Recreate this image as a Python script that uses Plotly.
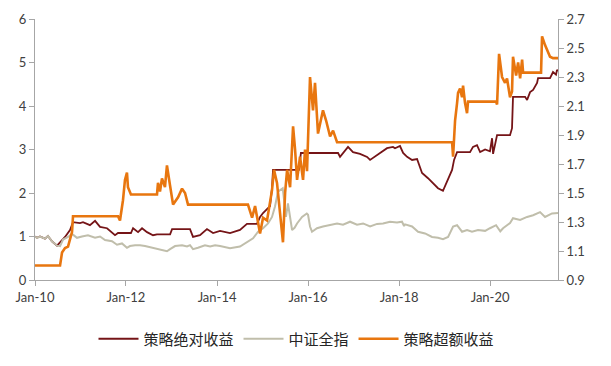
import plotly.graph_objects as go

# 中证全指 (left axis)
idx_dates = ["2010-01-01","2010-01-17","2010-02-10","2010-03-22","2010-04-15","2010-05-17","2010-06-27","2010-07-21",
 "2010-08-14","2010-09-23","2010-10-25","2010-12-04","2011-01-13","2011-03-02","2011-04-28","2011-06-07","2011-07-17",
 "2011-09-11","2011-10-21","2011-11-30","2012-01-09","2012-02-02","2012-03-14","2012-04-23","2012-06-02","2012-08-05",
 "2012-09-30","2012-11-25","2012-12-20","2013-01-29","2013-03-26","2013-05-05","2013-05-29","2013-06-22","2013-08-01",
 "2013-09-26","2013-11-06","2013-12-16","2014-01-25","2014-04-15","2014-07-04","2014-08-29","2014-10-17","2014-11-26",
 "2015-01-05","2015-02-14","2015-03-18","2015-04-11","2015-05-05","2015-06-12","2015-07-08","2015-07-24","2015-08-26",
 "2015-09-15","2015-10-05","2015-11-14","2015-12-22","2016-01-01","2016-01-17","2016-02-02","2016-03-13","2016-04-30",
 "2016-06-26","2016-08-21","2016-10-08","2016-12-03","2017-01-28","2017-03-18","2017-05-13","2017-07-08","2017-08-25",
 "2017-10-20","2017-12-15","2018-01-24","2018-02-10","2018-02-18","2018-04-15","2018-06-02","2018-07-28","2018-09-22",
 "2018-11-09","2018-12-19","2019-01-29","2019-03-10","2019-04-11","2019-05-21","2019-06-30","2019-08-09","2019-09-26",
 "2019-11-22","2019-12-31","2020-02-18","2020-03-23","2020-04-14","2020-06-09","2020-07-03","2020-08-29","2020-10-24",
 "2020-12-11","2021-02-05","2021-03-17","2021-05-12","2021-06-29"]
idx_vals = [1.00,0.97,1.00,0.95,1.01,0.89,0.79,0.78,
 0.93,0.99,1.06,0.97,1.00,1.03,0.97,1.00,0.92,
 0.89,0.81,0.84,0.74,0.78,0.80,0.80,0.78,0.74,
 0.71,0.66,0.71,0.78,0.80,0.77,0.80,0.71,0.74,
 0.80,0.77,0.80,0.78,0.73,0.77,0.87,0.96,1.11,
 1.19,1.30,1.45,1.69,2.03,2.11,1.45,1.76,1.15,
 1.20,1.30,1.45,1.53,1.50,1.23,1.11,1.19,1.23,
 1.27,1.30,1.27,1.34,1.27,1.30,1.23,1.29,1.30,
 1.34,1.32,1.34,1.24,1.28,1.23,1.11,1.07,0.99,
 0.97,0.94,0.99,1.23,1.26,1.11,1.15,1.11,1.15,
 1.13,1.19,1.26,1.12,1.19,1.31,1.42,1.38,1.45,
 1.49,1.56,1.45,1.53,1.54]

# 策略绝对收益 (left axis)
abs_dates = ["2010-01-01","2010-01-17","2010-02-10","2010-03-22","2010-04-15","2010-05-17","2010-06-27","2010-07-21",
 "2010-08-30","2010-10-09","2010-11-02","2010-12-28","2011-01-21","2011-03-18","2011-04-28","2011-06-07","2011-08-02",
 "2011-10-05","2011-10-29","2012-02-10","2012-02-27","2012-04-07","2012-05-09","2012-06-18","2012-08-05","2012-09-06",
 "2012-12-20","2013-01-05","2013-05-29","2013-06-22","2013-08-17","2013-10-12","2013-11-30","2014-01-25","2014-04-15",
 "2014-07-04","2014-08-29","2014-11-18","2014-12-12","2015-01-05","2015-02-06","2015-03-02","2015-03-18","2015-03-26",
 "2015-10-20","2015-11-05","2016-08-29","2016-09-14","2016-11-17","2016-12-27","2017-02-21","2017-04-19","2017-05-13",
 "2017-07-08","2017-09-26","2017-11-13","2017-11-29","2018-01-08","2018-02-02","2018-03-06","2018-04-15","2018-05-25",
 "2018-07-04","2018-08-21","2018-10-16","2018-11-09","2018-12-19","2019-01-29","2019-03-02","2019-03-18","2019-04-11",
 "2019-07-24","2019-08-17","2019-09-18","2019-10-13","2019-11-22","2019-12-31","2020-01-17","2020-01-25","2020-02-26",
 "2020-06-09","2020-06-25","2020-07-03","2020-10-08","2020-10-24","2020-11-17","2020-12-11","2021-01-12","2021-01-20",
 "2021-04-26","2021-05-20","2021-06-13","2021-06-21","2021-06-29"]
abs_vals = [1.00,0.97,1.00,0.95,1.01,0.89,0.79,0.87,
 0.99,1.15,1.33,1.31,1.33,1.26,1.36,1.22,1.19,
 1.03,1.08,1.08,1.19,1.10,1.19,1.10,1.03,1.05,
 1.05,1.17,1.17,0.99,1.03,1.17,1.08,1.13,1.08,
 1.15,1.29,1.29,1.45,1.54,1.62,1.70,2.11,2.53,
 2.53,2.92,2.92,2.83,3.06,2.94,2.90,2.83,2.76,
 2.87,3.03,3.06,3.03,3.08,2.92,2.83,2.76,2.78,
 2.46,2.34,2.18,2.11,2.05,2.30,2.53,2.76,2.94,
 2.94,3.06,3.10,2.94,3.00,2.96,3.26,2.90,3.33,
 3.33,3.49,4.21,4.21,4.14,4.32,4.37,4.53,4.64,
 4.64,4.78,4.72,4.83,4.80]

# 策略超额收益 (right axis)
exc_dates = ["2010-01-01","2010-07-21","2010-08-06","2010-08-30","2010-09-23","2010-10-09","2010-10-25","2010-11-02",
 "2011-10-29","2011-11-14","2011-12-08","2011-12-24","2012-01-09","2012-01-17","2012-02-10","2012-09-06","2012-09-14",
 "2012-09-30","2012-10-16","2012-11-09","2012-11-25","2012-12-20","2013-01-13","2013-02-22","2013-03-26","2013-04-19",
 "2013-05-13","2014-09-06","2014-09-23","2014-10-09","2014-11-02","2014-11-26","2014-12-12","2015-01-05","2015-02-06",
 "2015-03-18","2015-04-03","2015-04-27","2015-05-21","2015-06-14","2015-07-01","2015-07-17","2015-08-10","2015-09-03",
 "2015-09-19","2015-10-05","2015-10-29","2015-11-22","2015-12-08","2015-12-24","2016-01-17","2016-02-10","2016-02-26",
 "2016-03-21","2016-04-30","2016-05-25","2016-06-26","2016-07-20","2016-08-21","2019-03-02","2019-03-10","2019-03-18",
 "2019-03-26","2019-04-11","2019-04-19","2019-05-05","2019-05-21","2019-05-29","2019-06-14","2019-06-30","2019-07-08",
 "2020-02-18","2020-02-26","2020-03-13","2020-04-06","2020-04-30","2020-05-16","2020-06-09","2020-06-25","2020-07-03",
 "2020-07-28","2020-08-13","2020-08-29","2020-09-14","2020-09-22","2021-02-13","2021-02-21","2021-03-17","2021-04-02",
 "2021-04-26","2021-05-20","2021-06-29"]
exc_vals = [1.00,1.00,1.09,1.12,1.13,1.18,1.23,1.34,
 1.34,1.31,1.45,1.59,1.64,1.54,1.49,1.49,1.57,
 1.51,1.60,1.54,1.69,1.55,1.42,1.47,1.53,1.50,
 1.42,1.42,1.38,1.33,1.41,1.29,1.22,1.33,1.31,
 1.52,1.66,1.57,1.36,1.16,1.50,1.66,1.54,1.96,
 1.80,1.59,1.75,1.59,1.80,1.65,2.30,2.07,2.26,
 1.91,2.07,2.00,1.89,1.93,1.85,1.85,1.75,1.85,
 2.00,2.12,2.19,2.22,2.16,2.24,2.12,2.05,2.13,
 2.13,2.11,2.46,2.30,2.26,2.29,2.16,2.20,2.44,
 2.31,2.40,2.29,2.42,2.33,2.33,2.58,2.52,2.49,
 2.44,2.43,2.43]

tick_dates = ["2010-01-01","2012-01-01","2014-01-01","2016-01-01","2018-01-01","2020-01-01"]
tick_text = ["Jan-10","Jan-12","Jan-14","Jan-16","Jan-18","Jan-20"]

RED = "#751417"
GRAY = "#C0BEAB"
ORANGE = "#E8760F"
AXIS = "#A6A6A6"
FONT = "Lato, 'Noto Sans CJK SC', sans-serif"

fig = go.Figure()
fig.add_trace(go.Scatter(x=abs_dates, y=abs_vals, name="策略绝对收益", mode="lines",
                         line=dict(color=RED, width=1.8)))
fig.add_trace(go.Scatter(x=idx_dates, y=idx_vals, name="中证全指", mode="lines",
                         line=dict(color=GRAY, width=2)))
fig.add_trace(go.Scatter(x=exc_dates, y=exc_vals, name="策略超额收益", mode="lines",
                         line=dict(color=ORANGE, width=2.6), yaxis="y2"))

fig.update_layout(
    width=611, height=366,
    margin=dict(l=35, r=53, t=19, b=86, autoexpand=False),
    paper_bgcolor="white", plot_bgcolor="white",
    font=dict(family=FONT, size=13, color="#404040"),
    showlegend=True,
    legend=dict(orientation="h", x=0.5, xanchor="center", y=-0.226, yanchor="middle",
                font=dict(family="'Noto Sans CJK SC', sans-serif", size=15, color="#262626"),
                itemwidth=40, tracegroupgap=0),
    xaxis=dict(type="date", range=["2010-01-01", "2021-06-29"], automargin=False,
               tickvals=tick_dates, ticktext=tick_text,
               showgrid=False, zeroline=False, showline=True, linecolor=AXIS, linewidth=1,
               ticks="outside", ticklen=5, tickcolor=AXIS),
    yaxis=dict(range=[0, 6], dtick=1, automargin=False, showgrid=False, zeroline=False, showline=True,
               linecolor=AXIS, linewidth=1, ticks="outside", ticklen=5, tickcolor=AXIS),
    yaxis2=dict(range=[0.9, 2.7], dtick=0.2, tick0=0.9, tickformat=".1f", overlaying="y", side="right",
                automargin=False, showgrid=False, zeroline=False, showline=True, linecolor=AXIS, linewidth=1,
                ticks="outside", ticklen=5, tickcolor=AXIS),
)

fig.write_html("out.html", config={"displayModeBar": False},
               post_script="document.body.style.margin='0';document.body.style.overflow='hidden';")
